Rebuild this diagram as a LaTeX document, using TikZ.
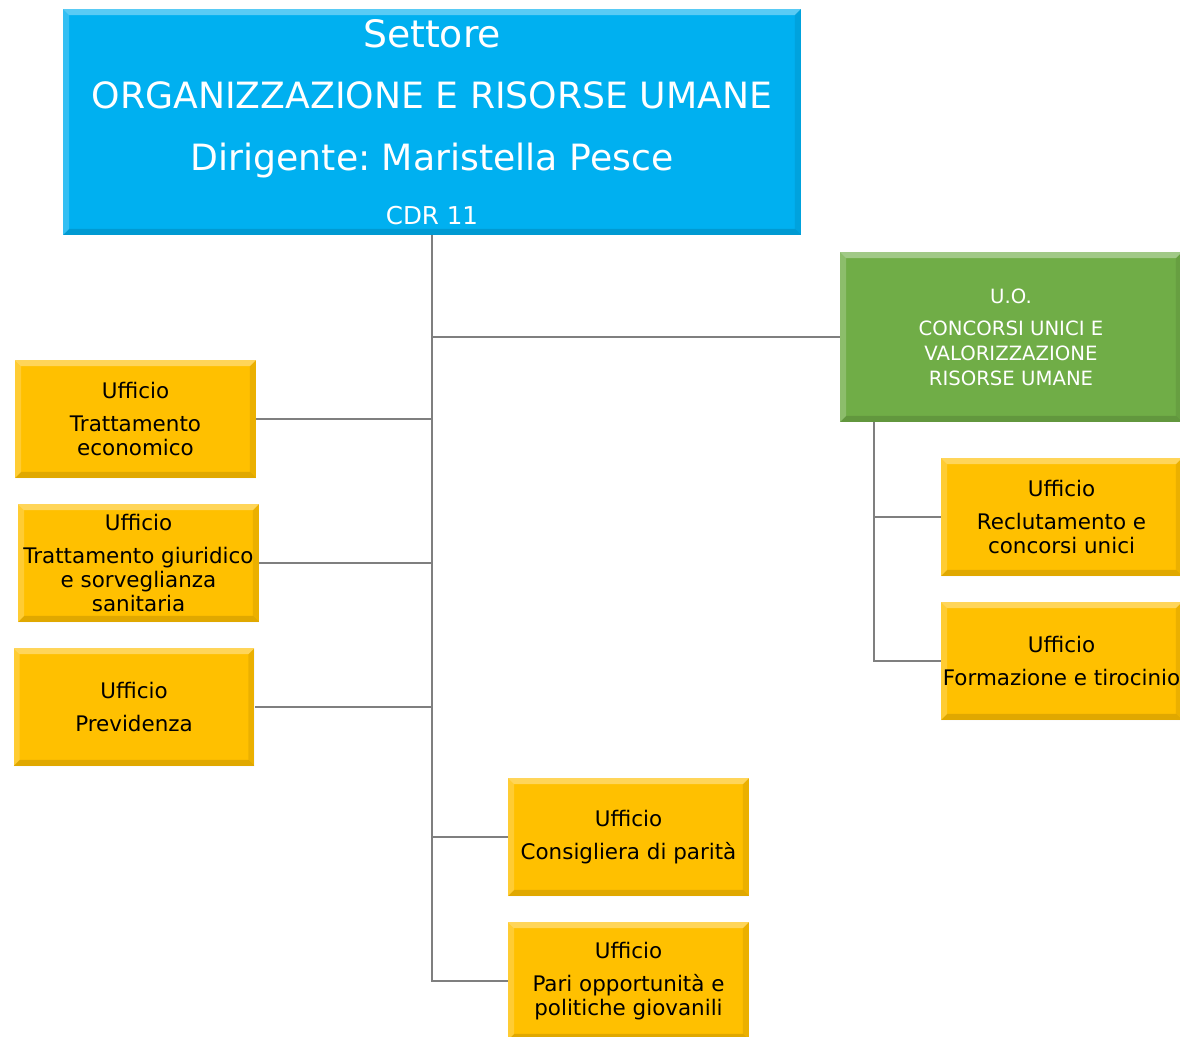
\documentclass[tikz,border=0pt]{standalone}
\usepackage{fontspec}
\setmainfont{DejaVu Sans}
\frenchspacing
\definecolor{settoreblu}{HTML}{00B0F0}
\definecolor{uoverde}{HTML}{70AD47}
\definecolor{ufficiogiallo}{HTML}{FFC000}
\definecolor{linea}{HTML}{7F7F7F}
\begin{document}
\begin{tikzpicture}[x=0.02cm, y=-0.02cm,
    every node/.style={rectangle, inner sep=0pt, align=center, font=\fontsize{12.2}{13.6}\selectfont},
    bevel/.style={path picture={
        \fill[white, opacity=.35] (path picture bounding box.north west) -- (path picture bounding box.north east)
          -- ([shift={(-3.5pt,-3.5pt)}]path picture bounding box.north east) -- ([shift={(3.5pt,-3.5pt)}]path picture bounding box.north west) -- cycle;
        \fill[white, opacity=.2] (path picture bounding box.north west) -- (path picture bounding box.south west)
          -- ([shift={(3.5pt,3.5pt)}]path picture bounding box.south west) -- ([shift={(3.5pt,-3.5pt)}]path picture bounding box.north west) -- cycle;
        \fill[black, opacity=.12] (path picture bounding box.south west) -- (path picture bounding box.south east)
          -- ([shift={(-3.5pt,3.5pt)}]path picture bounding box.south east) -- ([shift={(3.5pt,3.5pt)}]path picture bounding box.south west) -- cycle;
        \fill[black, opacity=.08] (path picture bounding box.north east) -- (path picture bounding box.south east)
          -- ([shift={(-3.5pt,3.5pt)}]path picture bounding box.south east) -- ([shift={(-3.5pt,-3.5pt)}]path picture bounding box.north east) -- cycle;
    }},
    ufficio/.style={bevel, fill=ufficiogiallo, minimum width=4.82cm, minimum height=2.36cm},
    link/.style={draw=linea, line width=1.2pt}]
  \useasboundingbox (0,0) rectangle (1180,1036);

  \node[bevel, fill=settoreblu, text=white, minimum width=14.76cm, minimum height=4.52cm,
        font=\fontsize{20.6}{35}\selectfont] (settore) at (432,122)
    {{\fontsize{21.5}{35}\selectfont Settore}\\ORGANIZZAZIONE E RISORSE UMANE\\Dirigente: Maristella Pesce\\[-4pt]{\fontsize{14}{17}\selectfont CDR 11}};
  \node[bevel, fill=uoverde, text=white, minimum width=6.84cm, minimum height=3.4cm,
        font=\fontsize{11.2}{14.2}\selectfont] (uo) at (1011,337)
    {U.O.\\[4pt]CONCORSI UNICI E\\VALORIZZAZIONE\\RISORSE UMANE};

  \node[ufficio] (economico) at (135.5,419) {Ufficio\\[5.4pt]Trattamento\\economico};
  \node[ufficio] (giuridico) at (138.5,563) {Ufficio\\[5.4pt]Trattamento giuridico\\e sorveglianza\\sanitaria};
  \node[ufficio] (previdenza) at (134,707) {Ufficio\\[5.4pt]Previdenza};
  \node[ufficio] (reclutamento) at (1061.5,517) {Ufficio\\[5.4pt]Reclutamento e\\concorsi unici};
  \node[ufficio] (formazione) at (1061.5,661) {Ufficio\\[5.4pt]Formazione e tirocinio};
  \node[ufficio] (parita) at (628.5,837) {Ufficio\\[5.4pt]Consigliera di parità};
  \node[ufficio] (pari) at (628.5,981) {Ufficio\\[5.4pt]Pari opportunità e\\politiche giovanili};

  \coordinate (uoleg) at (874,422);

  \draw[link] (settore.south) |- (pari.west);
  \draw[link] (settore.south |- uo.west) -- (uo.west);
  \draw[link] (economico.east) -- (economico.east -| settore.south);
  \draw[link] (giuridico.east) -- (giuridico.east -| settore.south);
  \draw[link] (previdenza.east) -- (previdenza.east -| settore.south);
  \draw[link] (settore.south |- parita.west) -- (parita.west);
  \draw[link] (uoleg) |- (formazione.west);
  \draw[link] (uoleg |- reclutamento.west) -- (reclutamento.west);
\end{tikzpicture}
\end{document}
